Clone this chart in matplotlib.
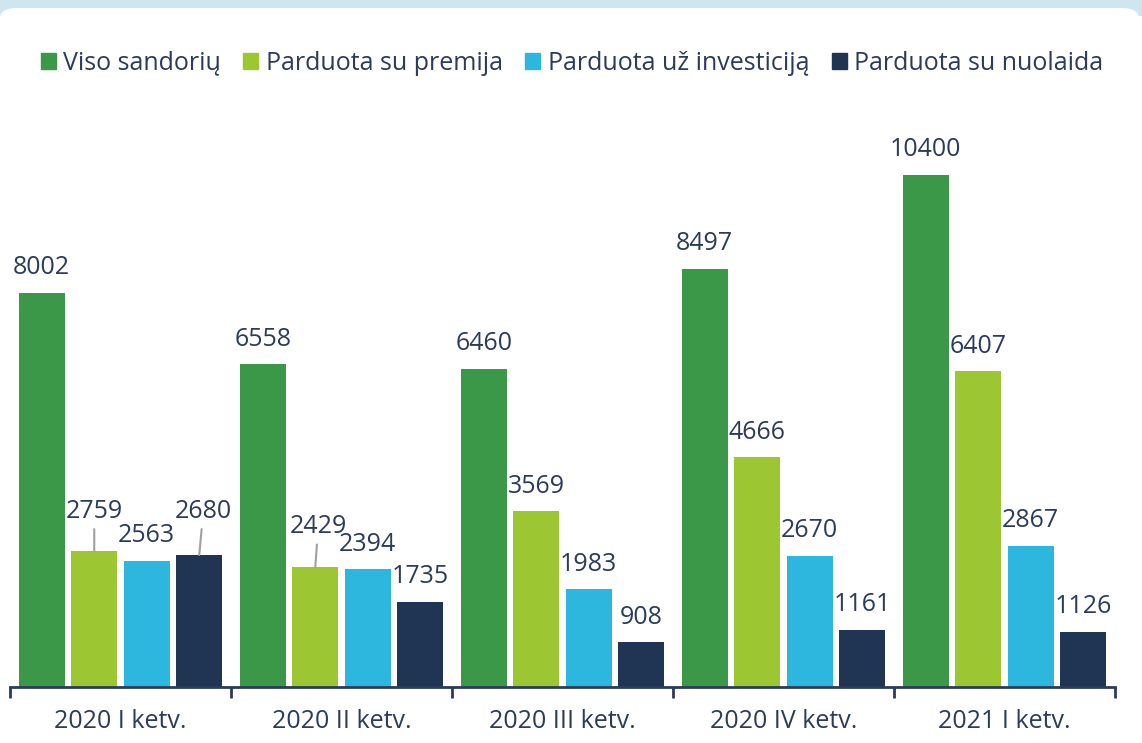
import numpy as np
import matplotlib.pyplot as plt
from matplotlib.patches import FancyBboxPatch, Rectangle

# data
quarters = ['2020 I ketv.', '2020 II ketv.', '2020 III ketv.', '2020 IV ketv.', '2021 I ketv.']
series_names = ['Viso sandorių', 'Parduota su premija', 'Parduota už investiciją', 'Parduota su nuolaida']
viso = [8002, 6558, 6460, 8497, 10400]
premija = [2759, 2429, 3569, 4666, 6407]
investicija = [2563, 2394, 1983, 2670, 2867]
nuolaida = [2680, 1735, 908, 1161, 1126]

colors = ['#3a9848', '#9cc632', '#2db6de', '#203454']
text_col = '#2b3b5c'

plt.rcParams['font.family'] = ['Open Sans', 'DejaVu Sans']

W, H = 1142, 743
fig = plt.figure(figsize=(W / 100, H / 100), dpi=100)
fig.patch.set_facecolor('white')

# top decoration: light blue band behind a rounded white card
fig.patches.append(Rectangle((0, 1 - 16 / H), 1, 16 / H, transform=fig.transFigure,
                             facecolor='#cfe5ef', edgecolor='none', zorder=0))
fig.patches.append(FancyBboxPatch((0.0, -0.05), 1 - 3 / W, 1 - 8 / H + 0.05,
                                  boxstyle='round,pad=0,rounding_size=0.015',
                                  transform=fig.transFigure, facecolor='white',
                                  edgecolor='none', zorder=0.5))

# light gray plot background gradient
bg = fig.add_axes([0, 0, 1 - 3 / W, 1 - 132 / H], zorder=0)
grad = np.linspace(0.97, 1.0, 100).reshape(-1, 1)
bg.imshow(grad, aspect='auto', cmap='gray', vmin=0, vmax=1, extent=[0, 1, 0, 1], origin='lower')
bg.axis('off')

ax = fig.add_axes([10 / W, 56 / H, 1105 / W, (687 - 130) / H], zorder=1)
ax.patch.set_alpha(0)

step = 0.2376
bw = 0.208
x = np.arange(len(quarters))
all_series = [viso, premija, investicija, nuolaida]

# label offsets (pixels) for labels moved to avoid overlaps
moved = {(1, 0): (0, 40), (3, 0): (4, 44), (1, 1): (3, 41)}

for j, vals in enumerate(all_series):
    xs = x + (j - 1.5) * step
    ax.bar(xs, vals, width=bw, color=colors[j], zorder=2)
    for i, (xx, v) in enumerate(zip(xs, vals)):
        if (j, i) in moved:
            dx, dy = moved[(j, i)]
            ax.annotate(str(v), xy=(xx, v), xytext=(dx, dy), textcoords='offset pixels',
                        ha='center', va='center', fontsize=18, color=text_col,
                        arrowprops=dict(arrowstyle='-', color='#a0a0a0', lw=1.5,
                                        shrinkA=2, shrinkB=0))
        else:
            ax.annotate(str(v), xy=(xx, v), xytext=(0, 25), textcoords='offset pixels',
                        ha='center', va='center', fontsize=18, color=text_col)

ax.set_xlim(-0.5, len(quarters) - 0.5)
ax.set_ylim(0, 11310)
for s in ['top', 'right', 'left']:
    ax.spines[s].set_visible(False)
ax.spines['bottom'].set_color(text_col)
ax.spines['bottom'].set_linewidth(2)
ax.set_yticks([])
ax.set_xticks(np.arange(-0.5, len(quarters)), minor=False)
ax.set_xticklabels([])
ax.tick_params(axis='x', length=8, width=2, color=text_col)
ax.set_xticks(x, minor=True)
ax.set_xticklabels(quarters, minor=True)
ax.tick_params(axis='x', which='minor', length=0, pad=16, labelsize=18, labelcolor=text_col)

# legend
handles = [Rectangle((0, 0), 1, 1, color=c) for c in colors]
fig.legend(handles, series_names, loc='center', bbox_to_anchor=(572 / W, 1 - 63 / H),
           ncol=4, frameon=False, fontsize=18, handlelength=0.6, handleheight=0.6,
           handletextpad=0.3, columnspacing=0.9, labelcolor=text_col)

fig.savefig('out.png', dpi=100)
